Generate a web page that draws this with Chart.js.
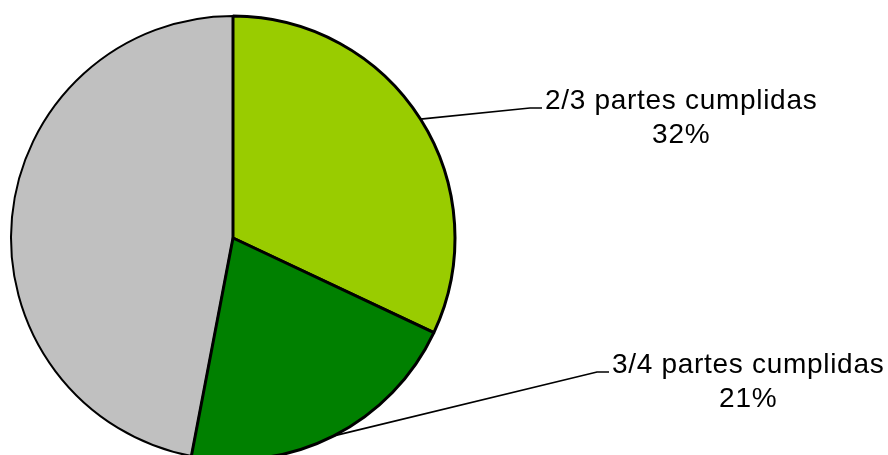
<!DOCTYPE html>
<html>
<head>
<meta charset="utf-8">
<script src="https://cdn.jsdelivr.net/npm/chart.js@4/dist/chart.umd.min.js"></script>
<style>
  html, body { margin: 0; padding: 0; background: #fff; overflow: hidden; }
  #wrap { width: 888px; height: 460px; }
</style>
</head>
<body>
<div id="wrap"><canvas id="pie"></canvas></div>
<script>
// slices, listed so the grey one is painted first and the green borders stay on top
const categories = ['Resto', '2/3 partes cumplidas', '3/4 partes cumplidas'];
const values = [47, 32, 21];
const sliceColors = ['#C0C0C0', '#99CC00', '#008000'];
const borderWidths = [2, 3, 3];
const labelled = [false, true, true];
// where each label's text block sits (left x, first baseline)
const labelSpots = [null, { x: 545, y: 109 }, { x: 612, y: 373 }];

const total = values.reduce((a, b) => a + b, 0);

const leaderLabels = {
  id: 'leaderLabels',
  afterDatasetsDraw(chart) {
    const ctx = chart.ctx;
    const meta = chart.getDatasetMeta(0);
    meta.data.forEach((arc, i) => {
      if (!labelled[i]) return;
      const p = arc.getProps(['x', 'y', 'startAngle', 'endAngle', 'outerRadius'], true);
      const mid = (p.startAngle + p.endAngle) / 2;
      const sx = p.x + Math.cos(mid) * p.outerRadius;
      const sy = p.y + Math.sin(mid) * p.outerRadius;
      const spot = labelSpots[i];
      const lineY = spot.y - 1;

      ctx.save();
      ctx.strokeStyle = '#000';
      ctx.lineWidth = 1.7;
      ctx.beginPath();
      ctx.moveTo(sx, sy);
      ctx.lineTo(spot.x - 15, lineY);
      ctx.lineTo(spot.x - 3, lineY);
      ctx.stroke();

      ctx.font = '28px "Liberation Sans", Arial, sans-serif';
      ctx.letterSpacing = '0.7px';
      ctx.fillStyle = '#000';
      ctx.textBaseline = 'alphabetic';
      ctx.textAlign = 'left';
      const name = categories[i];
      const w = ctx.measureText(name).width;
      ctx.fillText(name, spot.x, spot.y);
      const pct = Math.round(values[i] / total * 100) + '%';
      ctx.textAlign = 'center';
      ctx.fillText(pct, spot.x + w / 2, spot.y + 34);
      ctx.restore();
    });
  }
};

new Chart(document.getElementById('pie'), {
  type: 'pie',
  data: {
    labels: categories,
    datasets: [{
      data: values,
      backgroundColor: sliceColors,
      borderColor: '#000',
      borderWidth: borderWidths,
      radius: 222
    }]
  },
  options: {
    responsive: true,
    maintainAspectRatio: false,
    animation: false,
    rotation: -values[0] / total * 360,
    layout: { padding: { left: 11, top: 16, right: 433, bottom: 0 } },
    plugins: {
      legend: { display: false },
      tooltip: { enabled: false }
    }
  },
  plugins: [leaderLabels]
});
</script>
</body>
</html>
